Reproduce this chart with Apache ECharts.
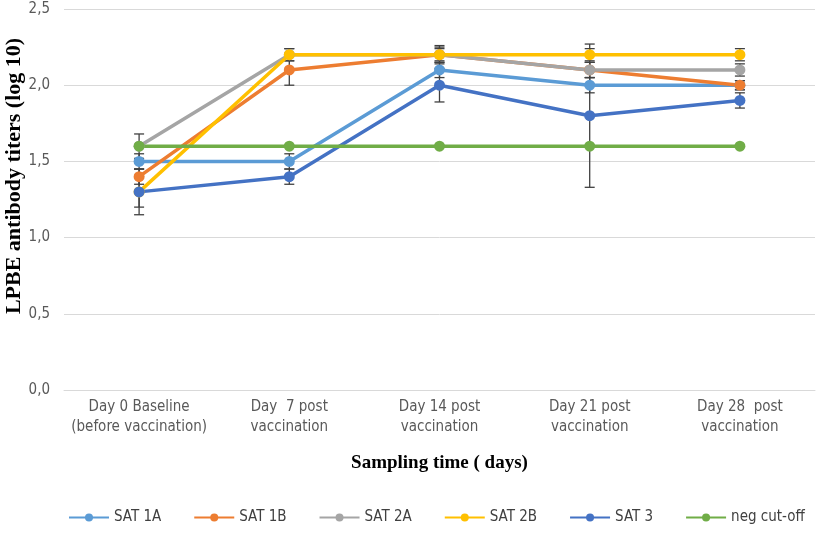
<html>
<head>
    <meta charset="utf-8">
    <script src="https://cdn.jsdelivr.net/npm/echarts@6/dist/echarts.min.js"></script>
</head>
<body>
    <style>
        html,
        body {
            width: 100%;
            height: 100%;
            margin: 0;
            background: #fff;
        }
    </style>
    <div id="main" style="width: 821px;height:536px;"></div>
    <script>
        var days = ['Day 0 Baseline\n(before vaccination)', 'Day  7 post\nvaccination', 'Day 14 post\nvaccination', 'Day 21 post\nvaccination', 'Day 28  post\nvaccination'];
        var names = ['SAT 1A', 'SAT 1B', 'SAT 2A', 'SAT 2B', 'SAT 3', 'neg cut-off'];
        var colors = ['#5B9BD5', '#ED7D31', '#A5A5A5', '#FFC000', '#4472C4', '#70AD47'];

        var sat1A = [1.5, 1.5, 2.1, 2.0, 2.0];
        var sat1B = [1.4, 2.1, 2.2, 2.1, 2.0];
        var sat2A = [1.6, 2.2, 2.2, 2.1, 2.1];
        var sat2B = [1.3, 2.2, 2.2, 2.2, 2.2];
        var sat3 = [1.3, 1.4, 2.0, 1.8, 1.9];
        var negCut = [1.6, 1.6, 1.6, 1.6, 1.6];

        // +/- error per point
        var err1A = [0.05, 0.05, 0.05, 0.05, 0.03];
        var err1B = [0.05, 0.1, 0.05, 0.05, 0.03];
        var err2A = [0.08, 0.04, 0.06, 0.05, 0.04];
        var err2B = [0.1, 0.04, 0.04, 0.04, 0.04];
        var err3 = [0.15, 0.05, 0.11, 0.47, 0.05];

        var values = [sat1A, sat1B, sat2A, sat2B, sat3, negCut];
        var errs = [err1A, err1B, err2A, err2B, err3];

        var errData = [];
        errs.forEach(function (e, s) {
            e.forEach(function (d, i) {
                errData.push([i, values[s][i] - d, values[s][i] + d]);
            });
        });

        var chart = echarts.init(document.getElementById('main'));

        var series = names.map(function (n, s) {
            return {
                name: n,
                type: 'line',
                data: values[s],
                symbol: 'circle',
                symbolSize: 11,
                z: 3,
                lineStyle: { width: 3.5, color: colors[s] },
                itemStyle: { color: colors[s] }
            };
        });
        series.push({
            type: 'custom',
            z: 2,
            silent: true,
            data: errData,
            renderItem: function (params, api) {
                var lo = api.coord([api.value(0), api.value(1)]);
                var hi = api.coord([api.value(0), api.value(2)]);
                var w = 5;
                var st = { stroke: '#404040', lineWidth: 1.3 };
                return {
                    type: 'group',
                    children: [
                        { type: 'line', shape: { x1: hi[0], y1: hi[1], x2: lo[0], y2: lo[1] }, style: st },
                        { type: 'line', shape: { x1: hi[0] - w, y1: hi[1], x2: hi[0] + w, y2: hi[1] }, style: st },
                        { type: 'line', shape: { x1: lo[0] - w, y1: lo[1], x2: lo[0] + w, y2: lo[1] }, style: st }
                    ]
                };
            }
        });

        var labelFont = "'Liberation Sans Narrow', 'DejaVu Sans Condensed', sans-serif";

        var option = {
            animation: false,
            color: colors,
            grid: { left: 64, right: 6, top: 9, bottom: 146, outerBoundsMode: 'none' },
            legend: {
                data: names,
                bottom: 6,
                left: 63,
                itemWidth: 40,
                itemHeight: 10,
                itemGap: 32,
                textStyle: { fontFamily: labelFont, fontSize: 15, color: '#404040' }
            },
            // y axis title, placed by hand so it sits like the original
            graphic: [{
                type: 'text',
                x: 14,
                y: 176,
                rotation: Math.PI / 2,
                style: {
                    text: 'LPBE antibody titers (log 10)',
                    font: "bold 22px 'Liberation Serif', serif",
                    fill: '#000',
                    align: 'center',
                    verticalAlign: 'middle'
                }
            }],
            xAxis: {
                type: 'category',
                data: days,
                name: 'Sampling time ( days)',
                nameLocation: 'middle',
                nameGap: 64,
                nameTextStyle: { fontFamily: "'Liberation Serif', serif", fontWeight: 'bold', fontSize: 19, color: '#000' },
                axisLine: { lineStyle: { color: '#d9d9d9', width: 1 } },
                axisTick: { show: false },
                axisLabel: { interval: 0, fontFamily: labelFont, fontSize: 15, color: '#595959', lineHeight: 20, margin: 7 }
            },
            yAxis: {
                type: 'value',
                min: 0,
                max: 2.5,
                interval: 0.5,
                axisLine: { show: false },
                axisTick: { show: false },
                splitLine: { lineStyle: { color: '#d9d9d9', width: 1 } },
                axisLabel: {
                    fontFamily: labelFont, fontSize: 15, color: '#595959', margin: 14,
                    formatter: function (v) { return v.toFixed(1).replace('.', ','); }
                }
            },
            series: series
        };
        chart.setOption(option);
    </script>
</body>
</html>
